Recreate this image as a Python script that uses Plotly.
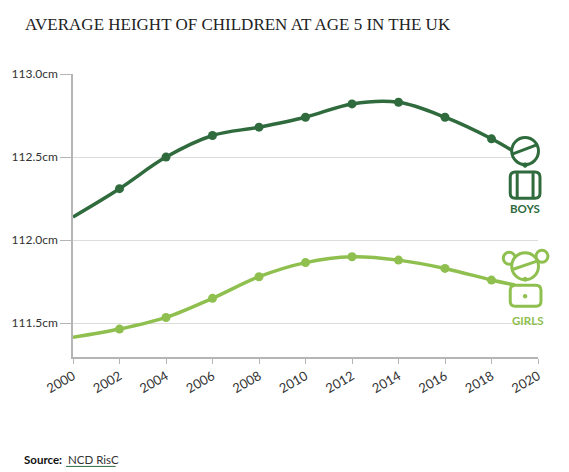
import plotly.graph_objects as go

# ---- data ----
years_line = [2000, 2002, 2004, 2006, 2008, 2010, 2012, 2014, 2016, 2018, 2019]
boys_line = [112.14, 112.31, 112.50, 112.63, 112.68, 112.74, 112.82, 112.83, 112.74, 112.61, 112.53]
girls_line = [111.415, 111.465, 111.535, 111.65, 111.78, 111.865, 111.90, 111.88, 111.83, 111.76, 111.73]
marker_years = [2002, 2004, 2006, 2008, 2010, 2012, 2014, 2016, 2018]
boys_markers = [112.31, 112.50, 112.63, 112.68, 112.74, 112.82, 112.83, 112.74, 112.61]
girls_markers = [111.465, 111.535, 111.65, 111.78, 111.865, 111.90, 111.88, 111.83, 111.76]
x_ticks = list(range(2000, 2021, 2))
y_ticks = [111.5, 112.0, 112.5, 113.0]
y_tick_labels = ["111.5cm", "112.0cm", "112.5cm", "113.0cm"]

BOY = "#2f6b3d"
GIRL = "#8fc04f"
W, H = 569, 472
L, R, T, B = 69, 538, 74, 356.7

fig = go.Figure()
for xs, ys, mx, my, c in [(years_line, boys_line, marker_years, boys_markers, BOY),
                          (years_line, girls_line, marker_years, girls_markers, GIRL)]:
    fig.add_trace(go.Scatter(x=xs, y=ys, mode="lines",
                             line=dict(color=c, width=3.5, shape="spline", smoothing=1.0),
                             hoverinfo="skip", showlegend=False))
    fig.add_trace(go.Scatter(x=mx, y=my, mode="markers",
                             marker=dict(color=c, size=9), showlegend=False))

def px(x):
    return (x - L) / (R - L)

def py(y):
    return (B - y) / (B - T)

shapes = []
def circle(cx, cy, r, color, fill="white", width=3):
    shapes.append(dict(type="circle", xref="paper", yref="paper",
                       x0=px(cx - r), x1=px(cx + r), y0=py(cy + r), y1=py(cy - r),
                       line=dict(color=color, width=width), fillcolor=fill, layer="above"))

def rrect(x0, y0, x1, y1, rad, color, fill="white", width=3):
    p = (f"M {px(x0 + rad)},{py(y0)} L {px(x1 - rad)},{py(y0)} "
         f"Q {px(x1)},{py(y0)} {px(x1)},{py(y0 + rad)} L {px(x1)},{py(y1 - rad)} "
         f"Q {px(x1)},{py(y1)} {px(x1 - rad)},{py(y1)} L {px(x0 + rad)},{py(y1)} "
         f"Q {px(x0)},{py(y1)} {px(x0)},{py(y1 - rad)} L {px(x0)},{py(y0 + rad)} "
         f"Q {px(x0)},{py(y0)} {px(x0 + rad)},{py(y0)} Z")
    shapes.append(dict(type="path", xref="paper", yref="paper", path=p,
                       line=dict(color=color, width=width), fillcolor=fill, layer="above"))

def seg(x0, y0, x1, y1, color, width=3):
    shapes.append(dict(type="line", xref="paper", yref="paper",
                       x0=px(x0), x1=px(x1), y0=py(y0), y1=py(y1),
                       line=dict(color=color, width=width), layer="above"))

# boy icon
rrect(510, 172, 540, 198, 5, BOY)
seg(517, 173, 517, 197, BOY)
seg(533, 173, 533, 197, BOY)
circle(525, 151, 13.5, BOY)
seg(512, 154, 536, 145, BOY)
circle(525, 165, 2.2, BOY, fill=BOY, width=1)
# girl icon
circle(509, 258, 6, GIRL)
circle(542, 256, 6, GIRL)
rrect(510, 285, 541, 306, 5, GIRL)
circle(525, 266, 13.5, GIRL)
seg(513, 269, 537, 261, GIRL)
circle(525, 279, 2, GIRL, fill=GIRL, width=1)
circle(525, 296, 1.8, GIRL, fill=GIRL, width=1)
# source underline
shapes.append(dict(type="line", xref="paper", yref="paper",
                   x0=px(62), x1=px(112), y0=py(466), y1=py(466),
                   line=dict(color=BOY, width=1)))

annotations = [
    dict(text="AVERAGE HEIGHT OF CHILDREN AT AGE 5 IN THE UK", xref="paper", yref="paper",
         x=px(19), y=py(25), xanchor="left", yanchor="middle", showarrow=False,
         font=dict(family="Liberation Serif", size=17, color="#222222")),
    dict(text="<b>BOYS</b>", xref="paper", yref="paper", x=px(525), y=py(208),
         xanchor="center", yanchor="middle", showarrow=False,
         font=dict(family="Lato", size=11.5, color=BOY)),
    dict(text="<b>GIRLS</b>", xref="paper", yref="paper", x=px(527), y=py(320),
         xanchor="center", yanchor="middle", showarrow=False,
         font=dict(family="Lato", size=11.5, color=GIRL)),
    dict(text="<b>Source:</b>", xref="paper", yref="paper", x=px(18), y=py(459),
         xanchor="left", yanchor="middle", showarrow=False,
         font=dict(family="Lato", size=11.5, color="#111111")),
    dict(text="NCD RisC", xref="paper", yref="paper", x=px(62), y=py(459),
         xanchor="left", yanchor="middle", showarrow=False,
         font=dict(family="Lato", size=11.5, color="#333333")),
]

fig.update_layout(
    width=W, height=H, margin=dict(l=L, r=W - R, t=T, b=H - B),
    paper_bgcolor="white", plot_bgcolor="white",
    shapes=shapes, annotations=annotations, showlegend=False,
    xaxis=dict(range=[2000, 2020], tickvals=x_ticks, tickangle=-30,
               showgrid=False, zeroline=False, showline=True, linecolor="#b5b5b5", linewidth=1.5,
               ticks="outside", ticklen=5, tickcolor="#b5b5b5",
               tickfont=dict(family="Lato", size=13, color="#333333")),
    yaxis=dict(range=[111.297, 113.0], tickvals=y_ticks, ticktext=y_tick_labels,
               showgrid=True, gridcolor="#dcdcdc", zeroline=False,
               showline=True, linecolor="#b5b5b5", linewidth=1.5,
               ticks="outside", ticklen=11, tickcolor="#b5b5b5",
               tickfont=dict(family="Lato", size=12, color="#333333")),
)

fig.write_html("out.html", config={"displayModeBar": False},
               post_script="document.body.style.margin='0';document.body.style.overflow='hidden';")
